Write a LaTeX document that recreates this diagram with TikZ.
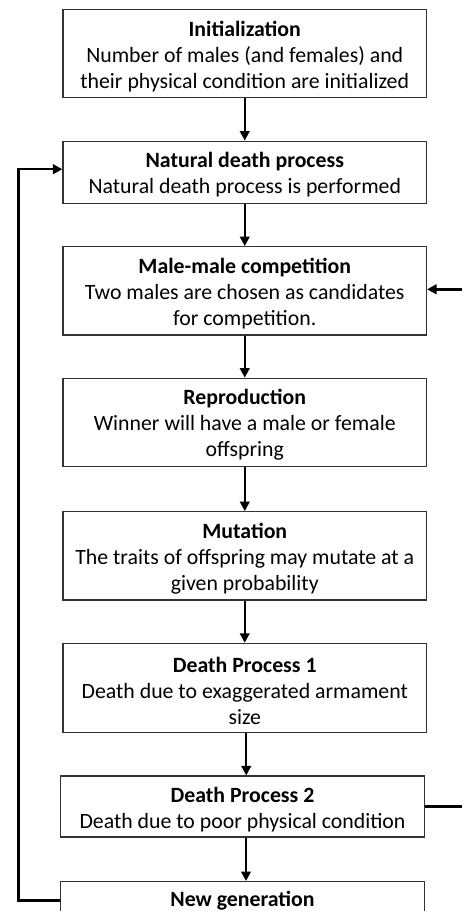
\documentclass[tikz,border=0pt]{standalone}
\usepackage{fontspec}
\setmainfont{Carlito}
\usetikzlibrary{arrows.meta}
\newcommand{\toppad}{\rule{0pt}{21pt}}
\tikzset{
  procbox/.style={draw=black!80, line width=1.1pt, minimum width=363.5pt, inner sep=0pt, align=center,
    font=\fontsize{21.8}{26}\selectfont},
  titletext/.style={inner sep=0pt, font=\fontsize{21.8}{26}\selectfont\bfseries},
  flow/.style={line width=2.3pt, -{Triangle[width=9.5pt,length=9.5pt]}},
  loopline/.style={line width=2.5pt, -{Triangle[width=9.5pt,length=9.5pt]}},
}
\begin{document}
\begin{tikzpicture}[x=1pt,y=-1pt]
\useasboundingbox (0,0) rectangle (462,911);
\node[procbox, minimum height=88pt] (b1) at (244.75,53.3) {\toppad\textbf{Initialization}\\Number of males (and females) and\\their physical condition are initialized};
\node[procbox, minimum height=62pt] (b2) at (244.75,172.2) {\toppad\textbf{Natural death process}\\Natural death process is performed};
\node[procbox, minimum height=88.3pt] (b3) at (244.75,290.8) {\toppad\textbf{Male-male competition}\\Two males are chosen as candidates\\for competition.};
\node[procbox, minimum height=88pt] (b4) at (244.75,422.2) {\toppad\textbf{Reproduction}\\Winner will have a male or female\\offspring};
\node[procbox, minimum height=88.3pt] (b5) at (244.75,555.8) {\toppad\textbf{Mutation}\\The traits of offspring may mutate at a\\given probability};
\node[procbox, minimum height=89pt] (b6) at (244.75,687.8) {\toppad\textbf{Death Process 1}\\Death due to exaggerated armament\\size};
\node[procbox, minimum width=364.4pt, minimum height=61pt] (b7) at (242.5,806.5) {\toppad\textbf{Death Process 2}\\Death due to poor physical condition};
\node[procbox, minimum width=364.4pt, minimum height=61pt, anchor=north] (b8) at (242.5,881) {};
\node[titletext] (t8) at (242.5,900.5) {New generation};
\coordinate (lx) at (18.5,0);
\coordinate (rx) at (463,0);
\coordinate (in2) at ([yshift=3pt]b2.west);
\coordinate (in3) at ([yshift=1.5pt]b3.east);
\draw[flow] (b1.south) -- (b2.north);
\draw[flow] (b2.south) -- (b3.north);
\draw[flow] (b3.south) -- (b4.north);
\draw[flow] (b4.south) -- (b5.north);
\draw[flow] (b5.south) -- (b6.north);
\draw[flow] ([xshift=1.5pt]b6.south) -- ([xshift=1.5pt]b6.south |- b7.north);
\draw[flow] ([xshift=3.5pt]b7.south) -- ([xshift=3.5pt]b7.south |- b8.north);
\draw[loopline] (b8.west |- t8) -- (lx |- t8) -- (lx |- in2) -- (in2);
\draw[loopline] (b7.east) -- (rx |- b7.east) -- (rx |- in3) -- (in3);
\end{tikzpicture}
\end{document}
